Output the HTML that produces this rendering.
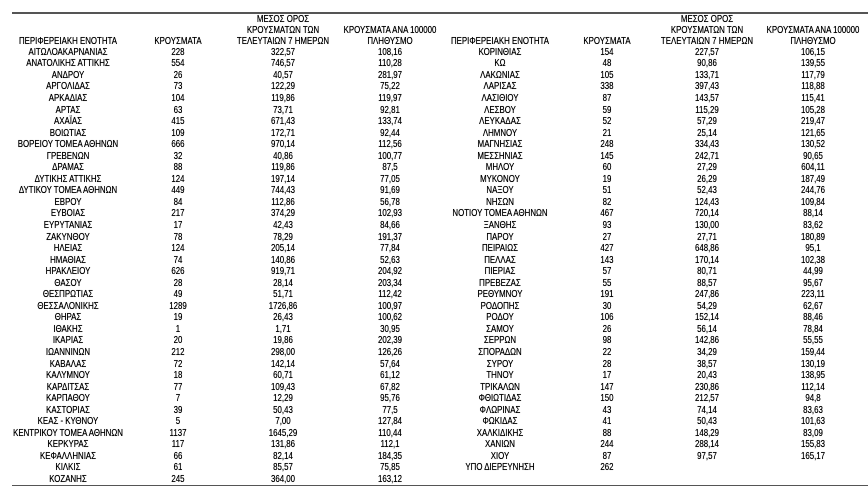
<!DOCTYPE html>
<html><head><meta charset="utf-8"><style>
body{margin:0;width:868px;height:487px;background:#fff;position:relative;overflow:hidden;font-family:"Liberation Sans","DejaVu Sans",sans-serif;color:#000;}
.c{position:absolute;width:180px;text-align:center;font-size:10.5px;line-height:11.55px;white-space:nowrap;transform:scaleX(0.75);transform-origin:center top;text-shadow:0 0 0.4px #000;}
.h{position:absolute;width:200px;text-align:center;font-size:10.5px;line-height:11px;white-space:nowrap;transform:scaleX(0.75);transform-origin:center top;text-shadow:0 0 0.4px #000;}
.ln{position:absolute;left:12px;right:0;height:1.5px;background:#555;}
</style></head><body>
<div class="ln" style="top:12px"></div>
<div class="ln" style="top:484.5px"></div>

<div class="h" style="left:-32px;top:36px">ΠΕΡΙΦΕΡΕΙΑΚΗ ΕΝΟΤΗΤΑ</div>
<div class="h" style="left:78px;top:36px">ΚΡΟΥΣΜΑΤΑ</div>
<div class="h" style="left:183px;top:14px">ΜΕΣΟΣ ΟΡΟΣ<br>ΚΡΟΥΣΜΑΤΩΝ ΤΩΝ<br>ΤΕΛΕΥΤΑΙΩΝ 7 ΗΜΕΡΩΝ</div>
<div class="h" style="left:290px;top:25px">ΚΡΟΥΣΜΑΤΑ ΑΝΑ 100000<br>ΠΛΗΘΥΣΜΟ</div>
<div class="h" style="left:400px;top:36px">ΠΕΡΙΦΕΡΕΙΑΚΗ ΕΝΟΤΗΤΑ</div>
<div class="h" style="left:507px;top:36px">ΚΡΟΥΣΜΑΤΑ</div>
<div class="h" style="left:607px;top:14px">ΜΕΣΟΣ ΟΡΟΣ<br>ΚΡΟΥΣΜΑΤΩΝ ΤΩΝ<br>ΤΕΛΕΥΤΑΙΩΝ 7 ΗΜΕΡΩΝ</div>
<div class="h" style="left:713px;top:25px">ΚΡΟΥΣΜΑΤΑ ΑΝΑ 100000<br>ΠΛΗΘΥΣΜΟ</div>

<div class="c" style="left:-22px;top:46.8px">ΑΙΤΩΛΟΑΚΑΡΝΑΝΙΑΣ<br>ΑΝΑΤΟΛΙΚΗΣ ΑΤΤΙΚΗΣ<br>ΑΝΔΡΟΥ<br>ΑΡΓΟΛΙΔΑΣ<br>ΑΡΚΑΔΙΑΣ<br>ΑΡΤΑΣ<br>ΑΧΑΪΑΣ<br>ΒΟΙΩΤΙΑΣ<br>ΒΟΡΕΙΟΥ ΤΟΜΕΑ ΑΘΗΝΩΝ<br>ΓΡΕΒΕΝΩΝ<br>ΔΡΑΜΑΣ<br>ΔΥΤΙΚΗΣ ΑΤΤΙΚΗΣ<br>ΔΥΤΙΚΟΥ ΤΟΜΕΑ ΑΘΗΝΩΝ<br>ΕΒΡΟΥ<br>ΕΥΒΟΙΑΣ<br>ΕΥΡΥΤΑΝΙΑΣ<br>ΖΑΚΥΝΘΟΥ<br>ΗΛΕΙΑΣ<br>ΗΜΑΘΙΑΣ<br>ΗΡΑΚΛΕΙΟΥ<br>ΘΑΣΟΥ<br>ΘΕΣΠΡΩΤΙΑΣ<br>ΘΕΣΣΑΛΟΝΙΚΗΣ<br>ΘΗΡΑΣ<br>ΙΘΑΚΗΣ<br>ΙΚΑΡΙΑΣ<br>ΙΩΑΝΝΙΝΩΝ<br>ΚΑΒΑΛΑΣ<br>ΚΑΛΥΜΝΟΥ<br>ΚΑΡΔΙΤΣΑΣ<br>ΚΑΡΠΑΘΟΥ<br>ΚΑΣΤΟΡΙΑΣ<br>ΚΕΑΣ - ΚΥΘΝΟΥ<br>ΚΕΝΤΡΙΚΟΥ ΤΟΜΕΑ ΑΘΗΝΩΝ<br>ΚΕΡΚΥΡΑΣ<br>ΚΕΦΑΛΛΗΝΙΑΣ<br>ΚΙΛΚΙΣ<br>ΚΟΖΑΝΗΣ</div>
<div class="c" style="left:88px;top:46.8px">228<br>554<br>26<br>73<br>104<br>63<br>415<br>109<br>666<br>32<br>88<br>124<br>449<br>84<br>217<br>17<br>78<br>124<br>74<br>626<br>28<br>49<br>1289<br>19<br>1<br>20<br>212<br>72<br>18<br>77<br>7<br>39<br>5<br>1137<br>117<br>66<br>61<br>245</div>
<div class="c" style="left:193px;top:46.8px">322,57<br>746,57<br>40,57<br>122,29<br>119,86<br>73,71<br>671,43<br>172,71<br>970,14<br>40,86<br>119,86<br>197,14<br>744,43<br>112,86<br>374,29<br>42,43<br>78,29<br>205,14<br>140,86<br>919,71<br>28,14<br>51,71<br>1726,86<br>26,43<br>1,71<br>19,86<br>298,00<br>142,14<br>60,71<br>109,43<br>12,29<br>50,43<br>7,00<br>1645,29<br>131,86<br>82,14<br>85,57<br>364,00</div>
<div class="c" style="left:300px;top:46.8px">108,16<br>110,28<br>281,97<br>75,22<br>119,97<br>92,81<br>133,74<br>92,44<br>112,56<br>100,77<br>87,5<br>77,05<br>91,69<br>56,78<br>102,93<br>84,66<br>191,37<br>77,84<br>52,63<br>204,92<br>203,34<br>112,42<br>100,97<br>100,62<br>30,95<br>202,39<br>126,26<br>57,64<br>61,12<br>67,82<br>95,76<br>77,5<br>127,84<br>110,44<br>112,1<br>184,35<br>75,85<br>163,12</div>

<div class="c" style="left:410px;top:46.8px">ΚΟΡΙΝΘΙΑΣ<br>ΚΩ<br>ΛΑΚΩΝΙΑΣ<br>ΛΑΡΙΣΑΣ<br>ΛΑΣΙΘΙΟΥ<br>ΛΕΣΒΟΥ<br>ΛΕΥΚΑΔΑΣ<br>ΛΗΜΝΟΥ<br>ΜΑΓΝΗΣΙΑΣ<br>ΜΕΣΣΗΝΙΑΣ<br>ΜΗΛΟΥ<br>ΜΥΚΟΝΟΥ<br>ΝΑΞΟΥ<br>ΝΗΣΩΝ<br>ΝΟΤΙΟΥ ΤΟΜΕΑ ΑΘΗΝΩΝ<br>ΞΑΝΘΗΣ<br>ΠΑΡΟΥ<br>ΠΕΙΡΑΙΩΣ<br>ΠΕΛΛΑΣ<br>ΠΙΕΡΙΑΣ<br>ΠΡΕΒΕΖΑΣ<br>ΡΕΘΥΜΝΟΥ<br>ΡΟΔΟΠΗΣ<br>ΡΟΔΟΥ<br>ΣΑΜΟΥ<br>ΣΕΡΡΩΝ<br>ΣΠΟΡΑΔΩΝ<br>ΣΥΡΟΥ<br>ΤΗΝΟΥ<br>ΤΡΙΚΑΛΩΝ<br>ΦΘΙΩΤΙΔΑΣ<br>ΦΛΩΡΙΝΑΣ<br>ΦΩΚΙΔΑΣ<br>ΧΑΛΚΙΔΙΚΗΣ<br>ΧΑΝΙΩΝ<br>ΧΙΟΥ<br>ΥΠΟ ΔΙΕΡΕΥΝΗΣΗ</div>
<div class="c" style="left:517px;top:46.8px">154<br>48<br>105<br>338<br>87<br>59<br>52<br>21<br>248<br>145<br>60<br>19<br>51<br>82<br>467<br>93<br>27<br>427<br>143<br>57<br>55<br>191<br>30<br>106<br>26<br>98<br>22<br>28<br>17<br>147<br>150<br>43<br>41<br>88<br>244<br>87<br>262</div>
<div class="c" style="left:617px;top:46.8px">227,57<br>90,86<br>133,71<br>397,43<br>143,57<br>115,29<br>57,29<br>25,14<br>334,43<br>242,71<br>27,29<br>26,29<br>52,43<br>124,43<br>720,14<br>130,00<br>27,71<br>648,86<br>170,14<br>80,71<br>88,57<br>247,86<br>54,29<br>152,14<br>56,14<br>142,86<br>34,29<br>38,57<br>20,43<br>230,86<br>212,57<br>74,14<br>50,43<br>148,29<br>288,14<br>97,57<br></div>
<div class="c" style="left:723px;top:46.8px">106,15<br>139,55<br>117,79<br>118,88<br>115,41<br>105,28<br>219,47<br>121,65<br>130,52<br>90,65<br>604,11<br>187,49<br>244,76<br>109,84<br>88,14<br>83,62<br>180,89<br>95,1<br>102,38<br>44,99<br>95,67<br>223,11<br>62,67<br>88,46<br>78,84<br>55,55<br>159,44<br>130,19<br>138,95<br>112,14<br>94,8<br>83,63<br>101,63<br>83,09<br>155,83<br>165,17<br></div>
</body></html>
